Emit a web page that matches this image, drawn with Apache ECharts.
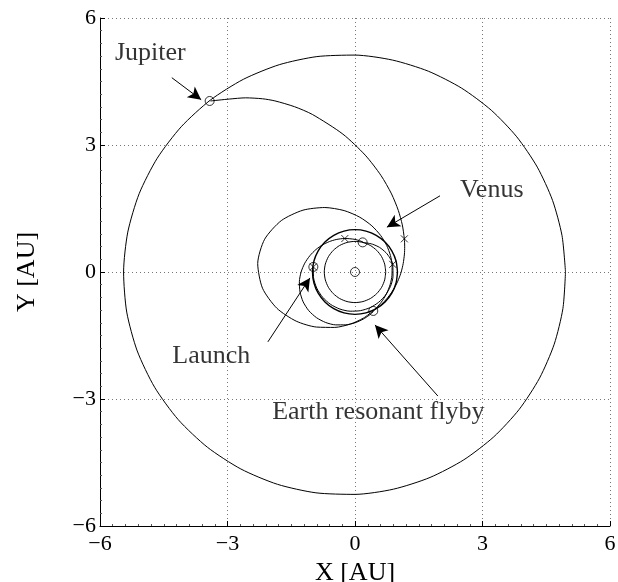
<!DOCTYPE html>
<html>
<head>
<meta charset="utf-8">
<script src="https://cdn.jsdelivr.net/npm/echarts@6/dist/echarts.min.js"></script>
<style>
  html, body { margin: 0; padding: 0; background: #fff; }
  #chart { width: 618px; height: 582px; }
</style>
</head>
<body>
<div id="chart"></div>
<script>
// axis ticks
const axisTicks = [-6, -3, 0, 3, 6]

// planet orbits (AU)
const jupiterOrbit = [
  [4.953, 0], [4.871, 0.859], [4.648, 1.692], [4.290, 2.477], [3.806, 3.193], [3.207, 3.821],
  [2.508, 4.343], [1.726, 4.743], [0.883, 5.006], [0, 5.124], [-0.897, 5.088], [-1.782, 4.897],
  [-2.628, 4.551], [-3.406, 4.059], [-4.089, 3.431], [-4.654, 2.687], [-5.079, 1.849], [-5.346, 0.943],
  [-5.445, 0], [-5.371, -0.947], [-5.124, -1.865], [-4.715, -2.722], [-4.158, -3.489], [-3.473, -4.139],
  [-2.686, -4.653], [-1.825, -5.015], [-0.920, -5.216], [0, -5.253], [0.905, -5.130], [1.766, -4.853],
  [2.561, -4.436], [3.266, -3.893], [3.865, -3.243], [4.342, -2.507], [4.687, -1.706], [4.892, -0.863],
  [4.953, 0]
]
const earthOrbit = [
  [1, 0], [0.966, 0.259], [0.866, 0.5], [0.707, 0.707], [0.5, 0.866], [0.259, 0.966],
  [0, 1], [-0.259, 0.966], [-0.5, 0.866], [-0.707, 0.707], [-0.866, 0.5], [-0.966, 0.259],
  [-1, 0], [-0.966, -0.259], [-0.866, -0.5], [-0.707, -0.707], [-0.5, -0.866], [-0.259, -0.966],
  [0, -1], [0.259, -0.966], [0.5, -0.866], [0.707, -0.707], [0.866, -0.5], [0.966, -0.259], [1, 0]
]
const venusOrbit = [
  [0.723, 0], [0.698, 0.187], [0.626, 0.362], [0.511, 0.511], [0.362, 0.626], [0.187, 0.698],
  [0, 0.723], [-0.187, 0.698], [-0.362, 0.626], [-0.511, 0.511], [-0.626, 0.362], [-0.698, 0.187],
  [-0.723, 0], [-0.698, -0.187], [-0.626, -0.362], [-0.511, -0.511], [-0.362, -0.626], [-0.187, -0.698],
  [0, -0.723], [0.187, -0.698], [0.362, -0.626], [0.511, -0.511], [0.626, -0.362], [0.698, -0.187], [0.723, 0]
]

// trajectory legs (AU)
const launchLeg = [
  [-0.981, 0.120], [-0.975, -0.137], [-0.899, -0.382], [-0.762, -0.596], [-0.576, -0.764],
  [-0.354, -0.876], [-0.114, -0.926], [0.128, -0.913], [0.357, -0.841], [0.558, -0.714],
  [0.720, -0.543], [0.835, -0.337], [0.894, -0.110], [0.888, 0.181], [0.821, 0.332],
  [0.729, 0.456], [0.580, 0.580], [0.411, 0.657], [0.277, 0.686], [0.180, 0.697]
]
const venusEarthLeg = [
  [0.190, 0.709], [0, 0.770], [-0.242, 0.792], [-0.443, 0.767], [-0.603, 0.718], [-0.763, 0.641],
  [-0.919, 0.531], [-1.061, 0.386], [-1.182, 0.208], [-1.268, 0], [-1.309, -0.231], [-1.294, -0.471],
  [-1.220, -0.705], [-1.088, -0.913], [-0.906, -1.079], [-0.689, -1.193], [-0.455, -1.249],
  [-0.220, -1.248], [0, -1.2], [0.196, -1.112], [0.332, -1.022], [0.435, -0.932]
]
const resonantLeg = [
  [0.429, -0.920], [0.609, -0.726], [0.739, -0.518], [0.826, -0.300], [0.870, -0.076], [0.873, 0.154],
  [0.834, 0.389], [0.746, 0.626], [0.604, 0.862], [0.397, 1.090], [0.113, 1.294], [-0.256, 1.451],
  [-0.710, 1.523], [-1.225, 1.460], [-1.734, 1.214], [-2.126, 0.774], [-2.289, 0.200], [-2.176, -0.384],
  [-1.838, -0.857], [-1.384, -1.161], [-0.910, -1.300], [-0.476, -1.309], [-0.108, -1.229],
  [0.193, -1.092], [0.429, -0.920]
]
const jupiterLeg = [
  [0.429, -0.921], [0.633, -0.754], [0.750, -0.629], [0.854, -0.493], [0.945, -0.344], [1.023, -0.180],
  [1.087, 0], [1.134, 0.200], [1.163, 0.423], [1.169, 0.595], [1.161, 0.783], [1.113, 1.113],
  [1.019, 1.455], [0.860, 1.844], [0.611, 2.281], [0.241, 2.760], [-0.285, 3.257], [-0.996, 3.718],
  [-1.421, 3.904], [-1.885, 4.042], [-2.176, 4.092], [-2.571, 4.114], [-2.961, 4.085], [-3.400, 4.040]
]

// bodies and events
const circleMarks = [[0, 0], [0.18, 0.70], [0.43, -0.92], [-0.98, 0.12], [-3.42, 4.04]]
const crossMarks = [[-0.98, 0.12], [-0.24, 0.79], [0.888, 0.181], [1.161, 0.783]]

// annotations: text, text anchor, arrow start, arrow tip
const noteTexts = ['Jupiter', 'Venus', 'Launch', 'Earth resonant flyby']
const noteAnchors = [[-5.65, 5.18], [2.47, 1.94], [-4.3, -2.0], [-1.95, -3.31]]
const arrowFrom = [[-4.31, 4.59], [2.0, 1.8], [-2.05, -1.65], [1.95, -2.93]]
const arrowTo = [[-3.62, 4.07], [0.75, 1.06], [-1.06, -0.14], [0.47, -1.25]]

const font = "'Liberation Serif', 'DejaVu Serif', serif"

function orbit(data, width) {
  return {
    type: 'line',
    data: data,
    showSymbol: false,
    smooth: 0.25,
    lineStyle: { color: '#000', width: width || 1 },
    z: 3,
    silent: true
  }
}

function axis(name, pos) {
  return {
    type: 'value',
    min: axisTicks[0],
    max: axisTicks[axisTicks.length - 1],
    interval: 3,
    position: pos,
    name: name,
    nameLocation: 'middle',
    nameGap: pos === 'bottom' ? 28 : 60,
    nameTextStyle: { fontFamily: font, fontSize: 26, color: '#000' },
    axisLine: { show: true, onZero: false, lineStyle: { color: '#000', width: 1 } },
    axisTick: { show: true, inside: true, length: 5, lineStyle: { color: '#000' } },
    minorTick: { show: true, splitNumber: 10, length: 2, lineStyle: { color: '#555' } },
    axisLabel: {
      fontFamily: font, fontSize: 22, color: '#000',
      margin: pos === 'bottom' ? 7 : 4,
      formatter: v => String(v).replace('-', '\u2212')
    },
    splitLine: { show: true, lineStyle: { color: '#777', type: [1, 3], width: 1 } }
  }
}

const chart = echarts.init(document.getElementById('chart'), null, { renderer: 'canvas' })

chart.setOption({
  animation: false,
  backgroundColor: '#fff',
  grid: { left: 100, right: 8, top: 18, bottom: 56, containLabel: false, outerBoundsMode: 'none' },
  xAxis: axis('X [AU]', 'bottom'),
  yAxis: axis('Y [AU]', 'left'),
  series: [
    orbit(jupiterOrbit),
    orbit(earthOrbit, 1.4),
    orbit(venusOrbit),
    orbit(launchLeg),
    orbit(venusEarthLeg),
    orbit(resonantLeg),
    orbit(jupiterLeg),
    {
      type: 'scatter',
      data: circleMarks,
      symbol: 'circle',
      symbolSize: 9,
      itemStyle: { color: 'rgba(0,0,0,0)', borderColor: '#000', borderWidth: 1 },
      z: 5
    },
    {
      type: 'scatter',
      data: crossMarks,
      symbol: 'path://M0,0L10,10M10,0L0,10',
      symbolSize: 7,
      itemStyle: { color: 'none', borderColor: '#000', borderWidth: 1 },
      z: 5
    },
    {
      type: 'scatter',
      data: noteAnchors.map((p, i) => [p[0], p[1], noteTexts[i]]),
      symbolSize: 0,
      label: {
        show: true,
        position: 'inside',
        align: 'left',
        verticalAlign: 'middle',
        formatter: p => p.value[2],
        fontFamily: font,
        fontSize: 26,
        color: '#000'
      },
      z: 6
    },
    {
      type: 'line',
      data: [],
      markLine: {
        silent: true,
        animation: false,
        symbol: ['none', 'arrow'],
        symbolSize: [10, 13],
        label: { show: false },
        lineStyle: { color: '#000', width: 1, type: 'solid' },
        data: arrowFrom.map((p, i) => [{ coord: p }, { coord: arrowTo[i] }])
      }
    }
  ]
})
</script>
</body>
</html>
